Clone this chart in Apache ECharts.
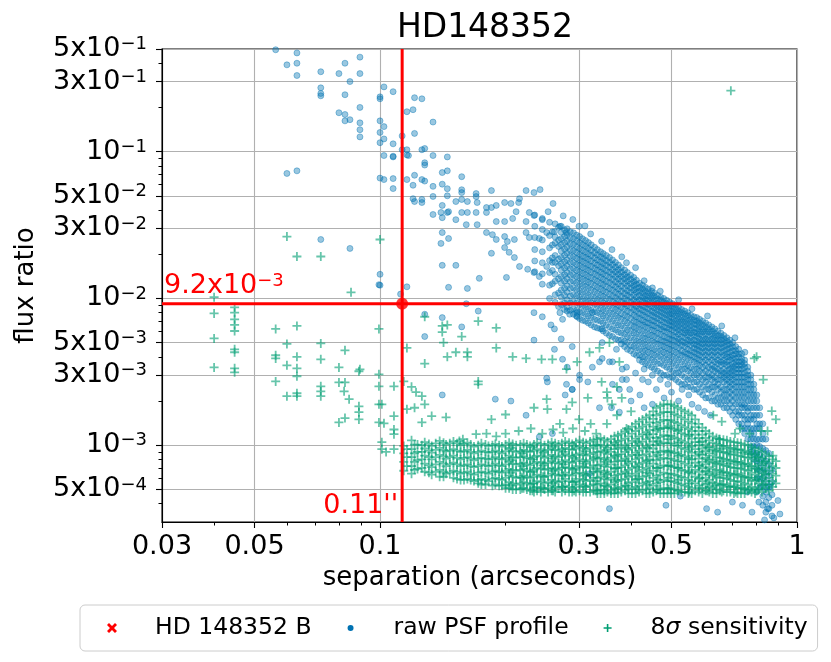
<!DOCTYPE html>
<html>
<head>
<meta charset="utf-8">
<title>HD148352</title>
<script src="https://cdn.jsdelivr.net/npm/echarts@6.0.0/dist/echarts.min.js"></script>
<style>
html, body { margin: 0; padding: 0; background: #fff; }
#chart { width: 831px; height: 662px; }
</style>
</head>
<body>
<div id="chart"></div>
<script>
var FONT = 'DejaVu Sans';

// axis ticks
var xMin = 0.03, xMax = 1;
var yMin = 3e-4, yMax = 0.5;
var xTickValues = [0.03, 0.05, 0.1, 0.3, 0.5, 1];
var xTickLabels = ['0.03', '0.05', '0.1', '0.3', '0.5', '1'];
var xMinorTicks = [0.04, 0.06, 0.07, 0.08, 0.09, 0.2, 0.4, 0.6, 0.7, 0.8, 0.9];
var yTickValues = [5e-1, 3e-1, 1e-1, 5e-2, 3e-2, 1e-2, 5e-3, 3e-3, 1e-3, 5e-4];
var yTickBase = ['5x10', '3x10', '10', '5x10', '3x10', '10', '5x10', '3x10', '10', '5x10'];
var yTickExp = ['−1', '−1', '−1', '−2', '−2', '−2', '−3', '−3', '−3', '−4'];
var yMinorTicks = [4e-1, 2e-1, 9e-2, 8e-2, 7e-2, 6e-2, 4e-2, 2e-2, 9e-3, 8e-3, 7e-3, 6e-3,
  4e-3, 2e-3, 9e-4, 8e-4, 7e-4, 6e-4, 4e-4];

// companion
var compName = 'HD 148352 B';
var companion = [[0.113, 0.0092]];
var compSepText = "0.11''";
var compFluxBase = '9.2x10', compFluxExp = '−3';

// raw PSF profile: loose points [sep, flux]
var psfName = 'raw PSF profile';
var psfSparse = [
  [0.0562,0.494],[0.0632,0.47],[0.0598,0.39],[0.0632,0.40],[0.0632,0.33],[0.0721,0.35],[0.0824,0.40],
  [0.0895,0.44],[0.0797,0.34],[0.0895,0.34],[0.0847,0.30],[0.0721,0.272],[0.0721,0.249],[0.0721,0.24],
  [0.0824,0.244],[0.0895,0.20],[0.1,0.236],[0.1,0.229],[0.1022,0.276],[0.1075,0.256],[0.0797,0.184],
  [0.0824,0.179],[0.0824,0.162],[0.0847,0.165],[0.0895,0.157],[0.0895,0.141],[0.0895,0.126],[0.1,0.162],
  [0.1022,0.148],[0.1,0.135],[0.1022,0.122],[0.1,0.115],[0.1075,0.113],[0.1075,0.092],[0.1075,0.093],
  [0.1022,0.094],[0.116,0.095],[0.113,0.103],[0.0598,0.071],[0.0632,0.074],[0.1,0.066],[0.1022,0.0645],
  [0.1075,0.0655],[0.1075,0.056],[0.116,0.0645],[0.0721,0.0252],[0.0847,0.0219],[0.1,0.0146],[0.1,0.0123],
  [0.0994,0.0124],[0.112,0.0107],
  [0.121,0.233],[0.126,0.229],[0.116,0.187],[0.12,0.193],[0.134,0.159],[0.121,0.133],[0.113,0.128],
  [0.116,0.103],[0.126,0.103],[0.128,0.105],[0.117,0.094],[0.134,0.094],[0.145,0.092],[0.128,0.084],
  [0.128,0.081],[0.145,0.074],[0.141,0.072],[0.121,0.069],[0.126,0.0645],[0.128,0.063],[0.157,0.0675],
  [0.12,0.059],[0.134,0.058],[0.141,0.060],[0.145,0.0559],[0.157,0.055],[0.157,0.0526],[0.17,0.0518],
  [0.185,0.0543],[0.224,0.0543],[0.234,0.0526],[0.242,0.0551],[0.12,0.0478],[0.121,0.0457],[0.126,0.0472],
  [0.126,0.045],[0.134,0.0495],[0.145,0.050],[0.141,0.043],[0.152,0.0457],[0.157,0.0472],[0.162,0.0457],
  [0.171,0.045],[0.17,0.0494],[0.18,0.0416],[0.185,0.0416],[0.19,0.043],[0.199,0.045],[0.206,0.0443],
  [0.215,0.045],[0.216,0.0478],[0.26,0.0443],[0.134,0.0373],[0.14,0.0385],[0.141,0.0355],[0.145,0.0385],
  [0.146,0.039],[0.152,0.0344],[0.157,0.0385],[0.161,0.0318],[0.162,0.0385],[0.17,0.0385],[0.171,0.0318],
  [0.18,0.0385],[0.19,0.0334],[0.199,0.0334],[0.208,0.035],[0.212,0.039],[0.228,0.0385],[0.234,0.0367],
  [0.224,0.0334],[0.245,0.0344],[0.253,0.039],[0.27,0.031],[0.28,0.0281],[0.18,0.0281],[0.186,0.0272],
  [0.19,0.0252],[0.199,0.0264],[0.202,0.0244],[0.21,0.0252],[0.224,0.0281],[0.228,0.026],[0.241,0.0256],
  [0.251,0.0281],[0.262,0.0285],[0.141,0.0281],[0.146,0.0256],[0.14,0.0237],[0.199,0.0222],[0.204,0.0206],
  [0.21,0.019],[0.185,0.0203],[0.141,0.0168],[0.152,0.0168],[0.173,0.0137],[0.201,0.0139],[0.216,0.0165],
  [0.226,0.0158],[0.234,0.015],[0.241,0.0141],[0.251,0.0165],[0.259,0.0176],[0.116,0.012],[0.146,0.0119],
  [0.162,0.0117],
  [0.128,0.0078],[0.141,0.0074],[0.157,0.0064],[0.172,0.0082],[0.161,0.0092],[0.128,0.0055],[0.141,0.0022],
  [0.189,0.00206],[0.206,0.002],[0.224,0.0016],[0.234,0.0080],[0.245,0.0075],[0.257,0.0066],[0.262,0.0062],
  [0.27,0.008],[0.274,0.0072],[0.285,0.0078],[0.296,0.008],[0.272,0.0053],[0.262,0.0045],[0.274,0.00385],
  [0.289,0.0047],[0.281,0.0034],[0.251,0.00286],[0.252,0.0027],[0.280,0.0026],[0.289,0.0024],[0.278,0.0022],
  [0.234,0.0052],[0.301,0.003],[0.315,0.0027],[0.336,0.0037],[0.355,0.0037],[0.369,0.0045],[0.341,0.005],
  [0.361,0.0026],[0.375,0.0024],[0.39,0.0028],[0.397,0.0024],[0.336,0.0018],[0.359,0.0018],[0.375,0.00168],
  [0.241,0.00114],[0.259,0.0012],[0.355,0.00037],[0.318,0.00064],[0.297,0.0075],[0.323,0.008],[0.341,0.0062],
  [0.323,0.0034],[0.341,0.0039],[0.361,0.0037],[0.381,0.0033],[0.381,0.0028],[0.426,0.0028],[0.301,0.0028],
  [0.289,0.0024],
  [0.39,0.0034],[0.41,0.0031],[0.43,0.0033],[0.45,0.003],[0.44,0.0027],[0.47,0.0028],[0.49,0.0026],
  [0.46,0.0024],[0.5,0.0023],[0.53,0.0024],[0.55,0.0022],[0.52,0.002],[0.48,0.0021],[0.45,0.0019],
  [0.43,0.0018],[0.56,0.0019],[0.58,0.0018],[0.6,0.0017],[0.62,0.0016],[0.42,0.0022],[0.4,0.002],
  [0.485,0.00039],[0.525,0.00045],[0.607,0.00037],[0.645,0.00035],[0.70,0.00041],[0.74,0.00039],
  [0.76,0.00048],[0.80,0.00048],[0.81,0.00041],[0.85,0.00037],[0.86,0.00052],[0.78,0.00035],
  [0.88,0.00032],[0.91,0.00034],[0.836,0.00031],[0.90,0.00042],
  [0.30,0.031],[0.32,0.0275],[0.34,0.0245],[0.36,0.0215],[0.38,0.0192],[0.41,0.0162],[0.45,0.0118],
  [0.47,0.0112],[0.52,0.0098],[0.56,0.0085],[0.61,0.0076],[0.66,0.0065],[0.71,0.0054],[0.75,0.0043],
  [0.29,0.0345],[0.31,0.0312],[0.275,0.0365],[0.39,0.0175],[0.43,0.0132]
];

// raw PSF profile: the dense band, one column per separation [sep, [flux...]]
var psfBand = [
  [0.235, [0.037,0.031,0.026,0.0215,0.018,0.0152]],
  [0.245, [0.035,0.0295,0.025,0.0208,0.0175,0.0147,0.0125]],
  [0.255, [0.0330,0.0268,0.0221,0.0181,0.0150,0.0123,0.0100]],
  [0.263, [0.0322,0.0262,0.0238,0.0196,0.0176,0.0146,0.0131,0.0106,0.0094]],
  [0.272, [0.0310,0.0282,0.0255,0.0232,0.0210,0.0190,0.0172,0.0156,0.0141,0.0127,0.0114,0.0102,0.0091]],
  [0.281, [0.0298,0.0270,0.0246,0.0224,0.0203,0.0183,0.0166,0.0150,0.0136,0.0122,0.0110,0.0098,0.0087,0.0082]],
  [0.291, [0.0280,0.0255,0.0233,0.0212,0.0193,0.0176,0.0160,0.0145,0.0131,0.0118,0.0106,0.0095,0.0085,0.0078]],
  [0.301, [0.0264,0.0240,0.0219,0.0200,0.0183,0.0167,0.0152,0.0138,0.0125,0.0113,0.0102,0.0091,0.0081,0.0073]],
  [0.311, [0.0248,0.0227,0.0207,0.0190,0.0174,0.0159,0.0145,0.0132,0.0120,0.0108,0.0097,0.0087,0.0078,0.0070]],
  [0.321, [0.0232,0.0213,0.0196,0.0180,0.0165,0.0151,0.0138,0.0126,0.0114,0.0103,0.0093,0.0083,0.0074,0.0066]],
  [0.332, [0.0215,0.0198,0.0183,0.0169,0.0156,0.0143,0.0131,0.0119,0.0108,0.0098,0.0089,0.0080,0.0071,0.0063]],
  [0.343, [0.0202,0.0187,0.0173,0.0160,0.0147,0.0135,0.0124,0.0113,0.0103,0.0093,0.0084,0.0076,0.0068,0.0060]],
  [0.355, [0.0190,0.0176,0.0163,0.0151,0.0139,0.0128,0.0117,0.0107,0.0098,0.0089,0.0080,0.0072,0.0064,0.0056]],
  [0.367, [0.0176,0.0163,0.0152,0.0141,0.0130,0.0120,0.0110,0.0101,0.0092,0.0084,0.0076,0.0068,0.0061,0.0053]],
  [0.379, [0.0162,0.0151,0.0141,0.0131,0.0121,0.0112,0.0103,0.0095,0.0087,0.0079,0.0072,0.0065,0.0058,0.0052,0.0049]],
  [0.392, [0.0150,0.0140,0.0131,0.0122,0.0113,0.0105,0.0097,0.0089,0.0082,0.0075,0.0068,0.0061,0.0055,0.0050,0.0045]],
  [0.406, [0.0139,0.0130,0.0122,0.0114,0.0106,0.0098,0.0091,0.0084,0.0077,0.0070,0.0064,0.0058,0.0052,0.0047,0.0042]],
  [0.419, [0.0127,0.0119,0.0112,0.0105,0.0098,0.0091,0.0085,0.0079,0.0073,0.0067,0.0061,0.0055,0.0050,0.0045,0.0041,0.0038]],
  [0.433, [0.0119,0.0112,0.0105,0.0099,0.0093,0.0087,0.0081,0.0075,0.0069,0.0064,0.0058,0.0053,0.0048,0.0044,0.0040,0.0036]],
  [0.448, [0.0112,0.0106,0.0100,0.0094,0.0088,0.0082,0.0077,0.0071,0.0066,0.0061,0.0056,0.0051,0.0046,0.0042,0.0038,0.0034]],
  [0.463, [0.0105,0.0099,0.0093,0.0088,0.0083,0.0078,0.0073,0.0068,0.0063,0.0058,0.0053,0.0049,0.0044,0.0040,0.0036,0.0032]],
  [0.479, [0.0100,0.0094,0.0089,0.0084,0.0079,0.0074,0.0069,0.0064,0.0060,0.0055,0.0051,0.0047,0.0043,0.0039,0.0035,0.0030]],
  [0.495, [0.0094,0.0089,0.0084,0.0079,0.0075,0.0070,0.0066,0.0062,0.0057,0.0053,0.0049,0.0045,0.0041,0.0037,0.0033,0.0029]],
  [0.512, [0.0090,0.0085,0.0080,0.0076,0.0071,0.0067,0.0063,0.0059,0.0055,0.0051,0.0047,0.0043,0.0039,0.0035,0.0031,0.0028]],
  [0.529, [0.0084,0.0080,0.0075,0.0071,0.0067,0.0063,0.0059,0.0055,0.0051,0.0048,0.0044,0.0041,0.0037,0.0033,0.0030,0.0026]],
  [0.547, [0.0080,0.0076,0.0071,0.0067,0.0063,0.0059,0.0056,0.0052,0.0049,0.0045,0.0042,0.0039,0.0035,0.0032,0.0028,0.0025]],
  [0.566, [0.0075,0.0071,0.0067,0.0063,0.0059,0.0056,0.0052,0.0049,0.0046,0.0043,0.0040,0.0037,0.0033,0.0030,0.0027,0.0024]],
  [0.584, [0.0072,0.0068,0.0064,0.0060,0.0057,0.0053,0.0050,0.0047,0.0044,0.0041,0.0038,0.0035,0.0032,0.0029,0.0026,0.0023]],
  [0.604, [0.0068,0.0064,0.0060,0.0057,0.0053,0.0050,0.0047,0.0044,0.0041,0.0038,0.0035,0.0032,0.0029,0.0027,0.0024,0.0021]],
  [0.625, [0.0064,0.0060,0.0057,0.0053,0.0050,0.0047,0.0044,0.0041,0.0038,0.0035,0.0033,0.0030,0.0028,0.0025,0.0023,0.0020]],
  [0.646, [0.0060,0.0056,0.0053,0.0050,0.0047,0.0044,0.0041,0.0038,0.0036,0.0033,0.0031,0.0028,0.0026,0.0024,0.0021,0.0019]],
  [0.668, [0.0056,0.0053,0.0050,0.0047,0.0044,0.0041,0.0038,0.0036,0.0033,0.0031,0.0029,0.0027,0.0024,0.0022,0.0020,0.0018]],
  [0.690, [0.0052,0.0049,0.0046,0.0043,0.0040,0.0038,0.0035,0.0033,0.0031,0.0029,0.0027,0.0025,0.0023,0.0021,0.0019,0.0017]],
  [0.713, [0.0047,0.0044,0.0042,0.0039,0.0037,0.0035,0.0033,0.0031,0.0029,0.0027,0.0025,0.0023,0.0021,0.0019,0.0017,0.0015]],
  [0.737, [0.0042,0.0039,0.0037,0.0035,0.0033,0.0031,0.0029,0.0027,0.0025,0.0023,0.0021,0.0019,0.0018,0.0016,0.0014,0.0013]],
  [0.762, [0.0034,0.0032,0.0030,0.0028,0.0026,0.0024,0.0022,0.0020,0.0018,0.0017,0.0015,0.0014,0.0013,0.0011]],
  [0.788, [0.0026,0.0024,0.0022,0.0020,0.0018,0.0016,0.0015,0.0013,0.0012,0.0011,0.00098,0.00088,0.0008]],
  [0.814, [0.0018,0.0016,0.0014,0.0013,0.0011,0.00098,0.00086,0.00076,0.00067,0.00059,0.00052]],
  [0.842, [0.0011,0.00092,0.00078,0.00066,0.00056,0.00048,0.00041,0.00035]],
  [0.871, [0.00068,0.00056,0.00046,0.00039,0.00033]]
];

// raw PSF profile: band points lying between the columns above
var psfBandMid = [
  [0.259, [0.0284,0.0231,0.0189,0.0155,0.0126]],
  [0.268, [0.0305,0.0250,0.0226,0.0185,0.0167,0.0136,0.0109,0.0088]],
  [0.277, [0.0293,0.0265,0.0240,0.0217,0.0197,0.0178,0.0161,0.0145,0.0131,0.0117,0.0105,0.0093,0.0084]],
  [0.286, [0.0284,0.0258,0.0235,0.0213,0.0194,0.0176,0.0159,0.0144,0.0130,0.0117,0.0104,0.0093,0.0083]],
  [0.296, [0.0270,0.0246,0.0224,0.0205,0.0187,0.0170,0.0155,0.0141,0.0128,0.0115,0.0104,0.0093,0.0083,0.0076]],
  [0.306, [0.0255,0.0232,0.0212,0.0194,0.0178,0.0162,0.0148,0.0135,0.0122,0.0110,0.0099,0.0089,0.0080,0.0071]],
  [0.316, [0.0240,0.0220,0.0201,0.0185,0.0169,0.0155,0.0141,0.0129,0.0117,0.0105,0.0095,0.0085,0.0076,0.0068]],
  [0.327, [0.0223,0.0205,0.0189,0.0174,0.0160,0.0147,0.0134,0.0122,0.0111,0.0100,0.0091,0.0081,0.0072,0.0064]],
  [0.338, [0.0208,0.0192,0.0178,0.0164,0.0151,0.0139,0.0127,0.0116,0.0105,0.0095,0.0086,0.0078,0.0070,0.0062]],
  [0.349, [0.0196,0.0181,0.0168,0.0155,0.0143,0.0131,0.0120,0.0110,0.0100,0.0091,0.0082,0.0074,0.0066,0.0058]],
  [0.361, [0.0183,0.0170,0.0157,0.0146,0.0135,0.0124,0.0114,0.0104,0.0095,0.0086,0.0078,0.0070,0.0062,0.0055]],
  [0.373, [0.0169,0.0157,0.0146,0.0136,0.0126,0.0116,0.0107,0.0098,0.0090,0.0082,0.0074,0.0066,0.0059,0.0052]],
  [0.386, [0.0156,0.0145,0.0136,0.0127,0.0117,0.0108,0.0100,0.0092,0.0085,0.0077,0.0070,0.0063,0.0057,0.0051,0.0047]],
  [0.399, [0.0144,0.0135,0.0126,0.0118,0.0110,0.0102,0.0094,0.0087,0.0080,0.0073,0.0066,0.0060,0.0054,0.0048,0.0044]],
  [0.412, [0.0133,0.0125,0.0117,0.0110,0.0102,0.0095,0.0088,0.0082,0.0075,0.0069,0.0063,0.0057,0.0051,0.0046,0.0041]],
  [0.426, [0.0123,0.0116,0.0109,0.0102,0.0096,0.0089,0.0083,0.0077,0.0071,0.0066,0.0060,0.0054,0.0049,0.0044,0.0040,0.0037]],
  [0.440, [0.0116,0.0109,0.0103,0.0097,0.0091,0.0085,0.0079,0.0073,0.0068,0.0063,0.0057,0.0052,0.0047,0.0043,0.0039,0.0035]],
  [0.455, [0.0109,0.0103,0.0097,0.0091,0.0086,0.0080,0.0075,0.0070,0.0065,0.0060,0.0055,0.0050,0.0045,0.0041,0.0037,0.0033]],
  [0.471, [0.0102,0.0097,0.0091,0.0086,0.0081,0.0076,0.0071,0.0066,0.0062,0.0057,0.0052,0.0048,0.0044,0.0040,0.0036,0.0031]],
  [0.487, [0.0097,0.0092,0.0087,0.0082,0.0077,0.0072,0.0068,0.0063,0.0059,0.0054,0.0050,0.0046,0.0042,0.0038,0.0034,0.0030]],
  [0.503, [0.0092,0.0087,0.0082,0.0078,0.0073,0.0069,0.0065,0.0061,0.0056,0.0052,0.0048,0.0044,0.0040,0.0036,0.0032,0.0029]],
  [0.520, [0.0087,0.0082,0.0078,0.0073,0.0069,0.0065,0.0061,0.0057,0.0053,0.0050,0.0046,0.0042,0.0038,0.0034,0.0031,0.0027]],
  [0.538, [0.0082,0.0078,0.0073,0.0069,0.0065,0.0061,0.0058,0.0054,0.0050,0.0047,0.0043,0.0040,0.0036,0.0033,0.0029,0.0026]],
  [0.556, [0.0077,0.0073,0.0069,0.0065,0.0061,0.0058,0.0054,0.0051,0.0048,0.0044,0.0041,0.0038,0.0034,0.0031,0.0028,0.0025]],
  [0.575, [0.0074,0.0070,0.0066,0.0062,0.0058,0.0055,0.0051,0.0048,0.0045,0.0042,0.0039,0.0036,0.0033,0.0030,0.0027,0.0024]],
  [0.594, [0.0070,0.0066,0.0062,0.0059,0.0055,0.0052,0.0049,0.0046,0.0043,0.0040,0.0037,0.0034,0.0031,0.0028,0.0025,0.0022]],
  [0.614, [0.0066,0.0062,0.0059,0.0055,0.0052,0.0049,0.0046,0.0043,0.0040,0.0037,0.0034,0.0031,0.0029,0.0026,0.0024,0.0021]],
  [0.635, [0.0062,0.0058,0.0055,0.0052,0.0049,0.0046,0.0043,0.0040,0.0037,0.0034,0.0032,0.0029,0.0027,0.0025,0.0022,0.0020]],
  [0.657, [0.0058,0.0055,0.0052,0.0049,0.0046,0.0043,0.0040,0.0037,0.0035,0.0032,0.0030,0.0028,0.0025,0.0023,0.0021,0.0019]],
  [0.679, [0.0054,0.0051,0.0048,0.0045,0.0042,0.0040,0.0037,0.0035,0.0032,0.0030,0.0028,0.0026,0.0024,0.0022,0.0020,0.0018]],
  [0.701, [0.0050,0.0047,0.0044,0.0041,0.0039,0.0036,0.0034,0.0032,0.0030,0.0028,0.0026,0.0024,0.0022,0.0020,0.0018,0.0016]],
  [0.725, [0.0045,0.0042,0.0040,0.0037,0.0035,0.0033,0.0031,0.0029,0.0027,0.0025,0.0023,0.0021,0.0019,0.0017,0.0016,0.0014]],
  [0.749, [0.0038,0.0036,0.0034,0.0031,0.0029,0.0027,0.0025,0.0023,0.0021,0.0019,0.0018,0.0016,0.0015,0.0013,0.0012]],
  [0.775, [0.0030,0.0028,0.0026,0.0024,0.0022,0.0020,0.0018,0.0016,0.0015,0.0013,0.0012,0.0011,0.00098,0.0009]],
  [0.801, [0.0022,0.0020,0.0018,0.0016,0.0014,0.0013,0.0011,0.0010,0.00088,0.00078,0.00069,0.0006]],
  [0.828, [0.0014,0.0012,0.0011,0.00095,0.00082,0.0007,0.0006,0.00052,0.00045,0.00039]],
  [0.856, [0.00088,0.00074,0.00062,0.00052,0.00044,0.00037]]
];

// 8 sigma sensitivity: loose points
var sensName = '8σ sensitivity';
var sensSparse = [
  [0.04,0.0102],[0.04,0.0079],[0.04,0.00534],[0.04,0.00339],
  [0.0448,0.0087],[0.0448,0.0080],[0.0448,0.0072],[0.0448,0.0066],[0.0448,0.006],[0.0448,0.0045],
  [0.0448,0.0043],[0.0448,0.00334],[0.0448,0.00314],
  [0.0562,0.0062],[0.0632,0.0065],[0.0598,0.0049],[0.0562,0.0041],[0.0562,0.0039],[0.0598,0.0035],
  [0.0632,0.0040],[0.0632,0.00334],[0.0632,0.00295],[0.0562,0.00272],[0.0598,0.00216],[0.0632,0.00216],
  [0.0632,0.00226],[0.0721,0.00494],[0.0721,0.00385],[0.0721,0.00252],[0.0721,0.00233],[0.0721,0.00216],
  [0.0824,0.00443],[0.0797,0.00339],[0.089,0.00319],[0.0895,0.00329],[0.0797,0.00268],[0.0824,0.00268],
  [0.082,0.00233],[0.0843,0.00206],[0.089,0.00184],[0.089,0.00168],[0.089,0.0015],[0.0797,0.00143],
  [0.0824,0.00153],[0.0994,0.0062],[0.0852,0.0110],[0.0994,0.00304],[0.0994,0.00252],[0.0994,0.0019],
  [0.101,0.0019],[0.0994,0.00143],[0.1022,0.00141],[0.108,0.00252],[0.108,0.00158],[0.108,0.00128],
  [0.108,0.00119],[0.101,0.00105],[0.101,0.00094],[0.1034,0.0009],[0.108,0.00094],
  [0.0598,0.0264],[0.0632,0.0193],[0.0721,0.0193],[0.1,0.0252],[0.694,0.26],
  [0.128,0.0075],[0.141,0.0065],[0.145,0.0066],[0.141,0.0059],[0.142,0.0050],[0.157,0.0055],[0.172,0.007],
  [0.190,0.0063],[0.116,0.0046],[0.128,0.0036],[0.145,0.0040],[0.152,0.0043],[0.162,0.0043],[0.162,0.0040],
  [0.190,0.0046],[0.208,0.0040],[0.224,0.0039],[0.244,0.00385],[0.259,0.00385],[0.280,0.0033],[0.297,0.0037],
  [0.318,0.0043],[0.172,0.00272],[0.172,0.0026],[0.114,0.00272],[0.119,0.0025],[0.122,0.0023],[0.126,0.00216],
  [0.128,0.0019],[0.116,0.00176],[0.121,0.0018],[0.133,0.00158],[0.144,0.00155],[0.126,0.00143],[0.185,0.0015],
  [0.20,0.00162],[0.234,0.0018],[0.251,0.00206],[0.252,0.00176],[0.280,0.00176],[0.289,0.00196],[0.315,0.0021],
  [0.351,0.0021],[0.170,0.00119],[0.158,0.0011],[0.155,0.00107],
  [0.336,0.0046],[0.355,0.005],[0.375,0.0037],[0.80,0.004],[0.83,0.0028],[0.79,0.0039],[0.87,0.00171],
  [0.89,0.0015],[0.85,0.00125],[0.875,0.00085],
  [0.63,0.0016],[0.66,0.00145],[0.73,0.0013],[0.77,0.0012],[0.82,0.00125],[0.65,0.0011],[0.71,0.0012],
  [0.34,0.0027],[0.35,0.0023],[0.36,0.0019],[0.37,0.0016],[0.38,0.0021],[0.39,0.0013],[0.40,0.0017],
  [0.35,0.0014],[0.33,0.0012],[0.37,0.0025],
  [0.20,0.0012],[0.215,0.00125],[0.23,0.0013],[0.245,0.0012],[0.26,0.00128],[0.275,0.00122],[0.29,0.0013],
  [0.19,0.00115],[0.18,0.0012],[0.31,0.00125],[0.32,0.0014],[0.3,0.0015],[0.27,0.0014]
];

// 8 sigma sensitivity: the dense band, one column per separation
var sensBand = [
  [0.114, [0.00099,0.00088,0.00077,0.00067]],
  [0.119, [0.00108,0.00094,0.00083,0.00072,0.00064]],
  [0.123, [0.00101,0.0009,0.00079,0.00069]],
  [0.128, [0.00105,0.00095,0.00085,0.00075,0.00066]],
  [0.133, [0.00099,0.00089,0.0008,0.00071,0.00063]],
  [0.139, [0.00107,0.00096,0.00086,0.00077,0.00068,0.00061]],
  [0.144, [0.00101,0.00091,0.00081,0.00072,0.00064]],
  [0.150, [0.00106,0.00094,0.00085,0.00076,0.00067,0.0006]],
  [0.156, [0.001,0.0009,0.0008,0.00072,0.00064,0.00058]],
  [0.162, [0.00104,0.00093,0.00083,0.00074,0.00066,0.00059]],
  [0.168, [0.00098,0.00088,0.00079,0.00071,0.00063,0.00057]],
  [0.175, [0.00103,0.00092,0.00082,0.00074,0.00066,0.00059,0.00054]],
  [0.182, [0.00099,0.00089,0.0008,0.00072,0.00064,0.00057]],
  [0.189, [0.00102,0.00092,0.00083,0.00075,0.00067,0.0006,0.00054]],
  [0.196, [0.00098,0.00088,0.0008,0.00072,0.00065,0.00058,0.00053]],
  [0.204, [0.00104,0.00094,0.00085,0.00077,0.00069,0.00062,0.00056,0.00051]],
  [0.212, [0.001,0.0009,0.00082,0.00074,0.00067,0.0006,0.00054,0.0005]],
  [0.221, [0.00103,0.00093,0.00084,0.00076,0.00069,0.00062,0.00056,0.00051]],
  [0.229, [0.00099,0.0009,0.00081,0.00073,0.00066,0.0006,0.00054,0.00049]],
  [0.238, [0.00104,0.00094,0.00085,0.00077,0.0007,0.00063,0.00057,0.00052,0.00049]],
  [0.248, [0.001,0.00091,0.00082,0.00075,0.00068,0.00061,0.00055,0.0005]],
  [0.258, [0.00105,0.00095,0.00086,0.00078,0.0007,0.00064,0.00058,0.00053,0.00049]],
  [0.268, [0.00101,0.00092,0.00083,0.00075,0.00068,0.00062,0.00056,0.00051]],
  [0.278, [0.00106,0.00096,0.00087,0.00079,0.00071,0.00065,0.00059,0.00053,0.00049]],
  [0.289, [0.00102,0.00093,0.00084,0.00076,0.00069,0.00062,0.00056,0.00051,0.00048]],
  [0.301, [0.00108,0.00098,0.00088,0.0008,0.00072,0.00065,0.00059,0.00054,0.00049]],
  [0.312, [0.00103,0.00094,0.00085,0.00077,0.0007,0.00063,0.00057,0.00052,0.00048]],
  [0.325, [0.00109,0.00099,0.00089,0.00081,0.00073,0.00066,0.0006,0.00054,0.00049]],
  [0.338, [0.00112,0.00101,0.00091,0.00082,0.00074,0.00067,0.00061,0.00055,0.0005,0.00047]],
  [0.351, [0.00106,0.00096,0.00087,0.00079,0.00071,0.00064,0.00058,0.00052,0.00048]],
  [0.365, [0.00115,0.00104,0.00094,0.00085,0.00077,0.00069,0.00062,0.00056,0.00051,0.00047]],
  [0.379, [0.0012,0.00108,0.00097,0.00087,0.00079,0.00071,0.00064,0.00058,0.00052,0.00048]],
  [0.394, [0.00128,0.00115,0.00103,0.00093,0.00084,0.00075,0.00068,0.00061,0.00055,0.0005,0.00047]],
  [0.410, [0.0014,0.00125,0.00111,0.00099,0.00089,0.0008,0.00072,0.00064,0.00058,0.00052,0.00047]],
  [0.426, [0.0015,0.00134,0.00119,0.00106,0.00095,0.00085,0.00076,0.00068,0.00061,0.00055,0.00049]],
  [0.443, [0.0016,0.00143,0.00127,0.00113,0.00101,0.0009,0.0008,0.00072,0.00064,0.00057,0.00051,0.00047]],
  [0.460, [0.0018,0.0016,0.00142,0.00126,0.00112,0.001,0.00089,0.00079,0.0007,0.00062,0.00055,0.00049]],
  [0.479, [0.0019,0.00168,0.00149,0.00132,0.00117,0.00104,0.00092,0.00082,0.00073,0.00065,0.00058,0.00051,0.00047]],
  [0.498, [0.0019,0.00168,0.00148,0.00131,0.00116,0.00103,0.00091,0.00081,0.00072,0.00064,0.00057,0.00051,0.00047]],
  [0.517, [0.0018,0.00159,0.00141,0.00125,0.00111,0.00099,0.00088,0.00078,0.0007,0.00062,0.00055,0.00049]],
  [0.538, [0.0017,0.0015,0.00133,0.00118,0.00105,0.00094,0.00084,0.00075,0.00067,0.0006,0.00053,0.00048]],
  [0.559, [0.0016,0.00141,0.00125,0.00111,0.00099,0.00089,0.0008,0.00071,0.00064,0.00057,0.00051,0.00047]],
  [0.581, [0.0014,0.00125,0.00112,0.001,0.0009,0.00081,0.00073,0.00066,0.00059,0.00053,0.00048]],
  [0.604, [0.00125,0.00112,0.00101,0.00091,0.00082,0.00074,0.00067,0.0006,0.00054,0.00049]],
  [0.628, [0.00115,0.00104,0.00094,0.00085,0.00077,0.00069,0.00062,0.00056,0.00051,0.00047]],
  [0.653, [0.0011,0.001,0.0009,0.00082,0.00074,0.00067,0.0006,0.00054,0.00049]],
  [0.679, [0.00108,0.00098,0.00088,0.0008,0.00072,0.00065,0.00059,0.00053,0.00048]],
  [0.706, [0.00105,0.00095,0.00086,0.00078,0.0007,0.00063,0.00057,0.00052,0.00047]],
  [0.734, [0.00103,0.00093,0.00084,0.00076,0.00069,0.00062,0.00056,0.00051,0.00047]],
  [0.763, [0.001,0.0009,0.00082,0.00074,0.00067,0.0006,0.00054,0.00049]],
  [0.793, [0.00095,0.00086,0.00078,0.0007,0.00063,0.00057,0.00051,0.00047]],
  [0.824, [0.0009,0.00081,0.00073,0.00066,0.00059,0.00053,0.00048]],
  [0.857, [0.00084,0.00075,0.00067,0.0006,0.00054,0.00049]],
  [0.890, [0.00078,0.0007,0.00062,0.00055]]
];

// 8 sigma sensitivity: band points lying between the columns above
var sensBandMid = [
  [0.116, [0.00094,0.00083,0.00072]],
  [0.121, [0.00101,0.00088,0.00077,0.00068]],
  [0.126, [0.001,0.0009,0.0008,0.0007]],
  [0.131, [0.00102,0.00092,0.00083,0.00073,0.00065]],
  [0.136, [0.00103,0.00093,0.00083,0.00074,0.00066]],
  [0.142, [0.00104,0.00093,0.00084,0.00075,0.00066,0.00061]],
  [0.147, [0.00103,0.00092,0.00083,0.00074,0.00065]],
  [0.153, [0.00103,0.00092,0.00082,0.00074,0.00066,0.00059]],
  [0.159, [0.00102,0.00091,0.00082,0.00073,0.00065,0.00058]],
  [0.165, [0.00101,0.0009,0.00081,0.00072,0.00064,0.00058]],
  [0.172, [0.001,0.0009,0.00081,0.00072,0.00065,0.00058,0.00055]],
  [0.179, [0.00101,0.0009,0.00081,0.00073,0.00065,0.00058,0.00054]],
  [0.186, [0.001,0.0009,0.00081,0.00073,0.00066,0.00059,0.00053]],
  [0.193, [0.001,0.0009,0.00081,0.00073,0.00066,0.00059,0.00053]],
  [0.200, [0.00101,0.00091,0.00082,0.00074,0.00067,0.0006,0.00054,0.00051]],
  [0.208, [0.00102,0.00092,0.00083,0.00075,0.00068,0.00061,0.00055,0.0005]],
  [0.217, [0.00101,0.00091,0.00083,0.00075,0.00068,0.00061,0.00055,0.0005]],
  [0.225, [0.00101,0.00091,0.00082,0.00074,0.00067,0.00061,0.00055,0.0005]],
  [0.234, [0.00101,0.00092,0.00083,0.00075,0.00068,0.00061,0.00055,0.00051,0.00048]],
  [0.243, [0.00102,0.00092,0.00084,0.00076,0.00069,0.00062,0.00056,0.00051,0.00048]],
  [0.253, [0.00102,0.00093,0.00084,0.00076,0.00069,0.00062,0.00056,0.00051,0.00048]],
  [0.263, [0.00103,0.00093,0.00084,0.00076,0.00069,0.00063,0.00057,0.00052,0.00048]],
  [0.273, [0.00103,0.00094,0.00085,0.00077,0.0007,0.00063,0.00057,0.00052,0.00048]],
  [0.284, [0.00104,0.00094,0.00085,0.00077,0.0007,0.00063,0.00057,0.00052,0.00048]],
  [0.295, [0.00105,0.00095,0.00086,0.00078,0.0007,0.00064,0.00057,0.00052,0.00048]],
  [0.307, [0.00105,0.00096,0.00086,0.00078,0.00071,0.00064,0.00058,0.00053,0.00048]],
  [0.319, [0.00106,0.00096,0.00087,0.00079,0.00071,0.00064,0.00058,0.00053,0.00048]],
  [0.332, [0.0011,0.001,0.0009,0.00081,0.00073,0.00066,0.0006,0.00054,0.00049,0.00047]],
  [0.345, [0.00109,0.00098,0.00089,0.0008,0.00072,0.00065,0.00059,0.00053,0.00049,0.00047]],
  [0.358, [0.0011,0.001,0.0009,0.00082,0.00074,0.00066,0.0006,0.00054,0.00049,0.00047]],
  [0.372, [0.00117,0.00106,0.00095,0.00086,0.00078,0.0007,0.00063,0.00057,0.00051,0.00047]],
  [0.387, [0.00124,0.00111,0.001,0.0009,0.00081,0.00073,0.00066,0.00059,0.00053,0.00049]],
  [0.402, [0.00134,0.0012,0.00107,0.00096,0.00086,0.00077,0.0007,0.00062,0.00056,0.00051,0.00047]],
  [0.418, [0.00145,0.0013,0.00115,0.00102,0.00092,0.00082,0.00074,0.00066,0.00059,0.00053,0.00048]],
  [0.435, [0.00155,0.00138,0.00123,0.0011,0.00098,0.00087,0.00078,0.0007,0.00062,0.00056,0.0005,0.00047]],
  [0.452, [0.0017,0.00151,0.00134,0.00119,0.00106,0.00095,0.00084,0.00075,0.00067,0.0006,0.00053,0.00048]],
  [0.470, [0.00185,0.00164,0.00145,0.00129,0.00114,0.00102,0.0009,0.0008,0.00071,0.00063,0.00056,0.0005,0.00047]],
  [0.489, [0.0019,0.00168,0.00148,0.00131,0.00116,0.00103,0.00091,0.00081,0.00072,0.00064,0.00057,0.00051,0.00047]],
  [0.508, [0.00185,0.00163,0.00144,0.00128,0.00113,0.001,0.00089,0.00079,0.00071,0.00063,0.00056,0.0005,0.00047]],
  [0.528, [0.00175,0.00155,0.00137,0.00121,0.00108,0.00096,0.00086,0.00077,0.00068,0.00061,0.00054,0.00048]],
  [0.549, [0.00165,0.00145,0.00129,0.00115,0.00102,0.00091,0.00082,0.00073,0.00065,0.00058,0.00052,0.00047]],
  [0.570, [0.0015,0.00133,0.00118,0.00105,0.00094,0.00085,0.00076,0.00068,0.00061,0.00055,0.00049]],
  [0.593, [0.00132,0.00118,0.00106,0.00095,0.00086,0.00077,0.0007,0.00063,0.00057,0.00051,0.00047]],
  [0.616, [0.0012,0.00108,0.00097,0.00088,0.00079,0.00071,0.00064,0.00058,0.00052,0.00048]],
  [0.641, [0.00112,0.00102,0.00092,0.00083,0.00075,0.00068,0.00061,0.00055,0.0005,0.00047]],
  [0.666, [0.00109,0.00099,0.00089,0.00081,0.00073,0.00066,0.0006,0.00054,0.00049]],
  [0.692, [0.00106,0.00096,0.00087,0.00079,0.00071,0.00064,0.00058,0.00052,0.00048]],
  [0.720, [0.00104,0.00094,0.00085,0.00077,0.0007,0.00063,0.00057,0.00051,0.00047]],
  [0.749, [0.00101,0.00092,0.00083,0.00075,0.00068,0.00061,0.00055,0.0005,0.00047]],
  [0.778, [0.00097,0.00088,0.0008,0.00072,0.00065,0.00058,0.00052,0.00048]],
  [0.809, [0.00092,0.00083,0.00075,0.00068,0.00061,0.00055,0.0005]],
  [0.841, [0.00087,0.00078,0.0007,0.00063,0.00057,0.00051]],
  [0.874, [0.0008,0.00072,0.00064,0.00057,0.00052]]
];

// 8 sigma sensitivity: the darkest core of the band
var sensBandCore = [
  [0.206, [0.00096,0.00079,0.00065,0.00053]],
  [0.219, [0.00088,0.00072,0.0006,0.00051]],
  [0.232, [0.00097,0.0008,0.00066,0.00055,0.00049]],
  [0.246, [0.00089,0.00073,0.00061,0.00051]],
  [0.260, [0.00098,0.00081,0.00067,0.00055,0.00049]],
  [0.275, [0.0009,0.00074,0.00062,0.00052]],
  [0.292, [0.00099,0.00082,0.00068,0.00056,0.00049]],
  [0.310, [0.00091,0.00075,0.00062,0.00052]],
  [0.329, [0.001,0.00083,0.00069,0.00057,0.00049]],
  [0.348, [0.00093,0.00077,0.00063,0.00053]],
  [0.368, [0.00101,0.00084,0.0007,0.00058,0.0005]],
  [0.390, [0.00095,0.00078,0.00064,0.00053]],
  [0.414, [0.00105,0.00086,0.00071,0.00059,0.0005]],
  [0.438, [0.00118,0.00096,0.00079,0.00065,0.00054]],
  [0.464, [0.0013,0.00106,0.00086,0.0007,0.00058,0.0005]],
  [0.492, [0.00135,0.0011,0.00089,0.00073,0.0006,0.0005]],
  [0.520, [0.00128,0.00104,0.00085,0.0007,0.00058,0.00049]],
  [0.551, [0.00118,0.00097,0.0008,0.00066,0.00055,0.00048]],
  [0.584, [0.00105,0.00087,0.00072,0.0006,0.00051]],
  [0.610, [0.00097,0.0008,0.00066,0.00055,0.00049]],
  [0.635, [0.00092,0.00076,0.00063,0.00053]],
  [0.660, [0.00095,0.00078,0.00065,0.00054,0.00048]],
  [0.686, [0.0009,0.00075,0.00062,0.00052]],
  [0.713, [0.00093,0.00077,0.00064,0.00053,0.00048]],
  [0.741, [0.00089,0.00074,0.00061,0.00051]],
  [0.770, [0.00087,0.00072,0.0006,0.0005]],
  [0.800, [0.00083,0.00069,0.00058,0.00049]],
  [0.832, [0.00077,0.00064,0.00054]]
];

function flattenColumns(cols) {
  var out = [];
  cols.forEach(function (c) {
    c[1].forEach(function (y) { out.push([c[0], y]); });
  });
  return out;
}

function tickIndex(values, v) {
  for (var i = 0; i < values.length; i++) {
    if (Math.abs(Math.log10(values[i] / v)) < 1e-6) return i;
  }
  return -1;
}

var ICON_X = 'path://M2,0L5,3L8,0L10,2L7,5L10,8L8,10L5,7L2,10L0,8L3,5L0,2Z';
var ICON_DOT = 'path://M0,0M10,10M5,2A3,3,0,1,1,5,8A3,3,0,1,1,5,2Z';
var ICON_PLUS = 'path://M0,0M10,10M4.2,1H5.8V4.2H9V5.8H5.8V9H4.2V5.8H1V4.2H4.2Z';
var PLUS = 'path://M4,0H6V4H10V6H6V10H4V6H0V4H4Z';

var supRich = {
  b: { fontSize: 27, fontFamily: FONT, color: '#000', verticalAlign: 'bottom' },
  s: { fontSize: 18, fontFamily: FONT, color: '#000', verticalAlign: 'bottom', padding: [0, 0, 9, 0] }
};

var redLine = {
  type: 'line', silent: true, z: 5, symbol: 'none',
  lineStyle: { color: '#ff0000', width: 3 }
};

var option = {
  animation: false,
  backgroundColor: '#fff',
  title: {
    text: 'HD148352',
    left: 480,
    top: 7,
    textAlign: 'center',
    textStyle: { fontFamily: FONT, fontSize: 33, fontWeight: 'normal', color: '#000' }
  },
  grid: {
    left: 162, right: 34, top: 49, bottom: 140,
    show: true, borderColor: '#000', borderWidth: 1.1, backgroundColor: 'transparent'
  },
  legend: {
    left: 80, top: 605,
    padding: [11, 10, 11, 27],
    itemWidth: 10, itemHeight: 10, itemGap: 34,
    borderColor: '#cccccc', borderWidth: 1, borderRadius: 5,
    itemStyle: { opacity: 1, borderWidth: 0 },
    textStyle: {
      fontFamily: FONT, fontSize: 23.5, color: '#000', padding: [0, 0, 0, 33],
      rich: { i: { fontFamily: FONT, fontSize: 23.5, fontStyle: 'italic', color: '#000' } }
    },
    formatter: function (name) {
      return name === sensName ? '8{i|σ} sensitivity' : name;
    },
    data: [
      { name: compName, icon: ICON_X },
      { name: psfName, icon: ICON_DOT },
      { name: sensName, icon: ICON_PLUS }
    ]
  },
  xAxis: [{
    type: 'log', logBase: 10, min: xMin, max: xMax, position: 'bottom',
    name: 'separation (arcseconds)', nameLocation: 'middle', nameGap: 41,
    nameTextStyle: { fontFamily: FONT, fontSize: 26, color: '#000' },
    axisLine: { show: true, lineStyle: { color: '#000', width: 1.1 } },
    axisTick: { show: true, length: 6, customValues: xTickValues, lineStyle: { color: '#000', width: 1.1 } },
    axisLabel: {
      show: true, customValues: xTickValues, margin: 11,
      fontFamily: FONT, fontSize: 27, color: '#000',
      formatter: function (v) { var i = tickIndex(xTickValues, v); return i < 0 ? '' : xTickLabels[i]; }
    },
    splitLine: { show: true, lineStyle: { color: '#b0b0b0', width: 1.1 } }
  }, {
    type: 'log', logBase: 10, min: xMin, max: xMax, position: 'bottom',
    axisLine: { show: false },
    axisTick: { show: true, length: 3.5, customValues: xMinorTicks, lineStyle: { color: '#000', width: 1 } },
    axisLabel: { show: false },
    splitLine: { show: false }
  }],
  yAxis: [{
    type: 'log', logBase: 10, min: yMin, max: yMax, position: 'left',
    name: 'flux ratio', nameLocation: 'middle', nameGap: 123,
    nameTextStyle: { fontFamily: FONT, fontSize: 26, color: '#000' },
    axisLine: { show: true, lineStyle: { color: '#000', width: 1.1 } },
    axisTick: { show: true, length: 6, customValues: yTickValues, lineStyle: { color: '#000', width: 1.1 } },
    axisLabel: {
      show: true, customValues: yTickValues, margin: 15,
      rich: supRich,
      formatter: function (v) {
        var i = tickIndex(yTickValues, v);
        return i < 0 ? '' : '{b|' + yTickBase[i] + '}{s|' + yTickExp[i] + '}';
      }
    },
    splitLine: { show: true, lineStyle: { color: '#b0b0b0', width: 1.1 } }
  }, {
    type: 'log', logBase: 10, min: yMin, max: yMax, position: 'left',
    axisLine: { show: false },
    axisTick: { show: true, length: 3.5, customValues: yMinorTicks, lineStyle: { color: '#000', width: 1 } },
    axisLabel: { show: false },
    splitLine: { show: false }
  }],
  series: [
    {
      name: compName, type: 'scatter', data: companion, z: 6,
      symbol: 'circle', symbolSize: 12, silent: true,
      itemStyle: { color: '#ff0000' }
    },
    {
      name: psfName, type: 'scatter', z: 2, silent: true,
      data: psfSparse.concat(flattenColumns(psfBand), flattenColumns(psfBandMid)),
      symbol: 'circle', symbolSize: 6,
      itemStyle: { color: '#0072B2', opacity: 0.4, borderColor: '#0072B2', borderWidth: 1 }
    },
    {
      name: sensName, type: 'scatter', z: 3, silent: true,
      data: sensSparse.concat(flattenColumns(sensBand), flattenColumns(sensBandMid), flattenColumns(sensBandCore)),
      symbol: PLUS, symbolSize: 9,
      itemStyle: { color: '#009E73', opacity: 0.6 }
    },
    Object.assign({ name: 'sepLine', data: [[companion[0][0], yMin], [companion[0][0], yMax]] }, redLine),
    Object.assign({ name: 'fluxLine', data: [[xMin, companion[0][1]], [xMax, companion[0][1]]] }, redLine)
  ]
};

var chart = echarts.init(document.getElementById('chart'));
chart.setOption(option);

// red annotations next to the companion lines
var pFlux = chart.convertToPixel({ gridIndex: 0 }, [xMin, companion[0][1]]);
var pSep = chart.convertToPixel({ gridIndex: 0 }, [companion[0][0], yMin]);
chart.setOption({
  graphic: [
    {
      type: 'text', x: pFlux[0] + 2, y: pFlux[1] - 4, z: 20, silent: true,
      style: {
        text: '{b|' + compFluxBase + '}{s|' + compFluxExp + '}',
        align: 'left', verticalAlign: 'bottom',
        rich: {
          b: { fontSize: 27, fontFamily: FONT, fill: '#ff0000', verticalAlign: 'bottom' },
          s: { fontSize: 18, fontFamily: FONT, fill: '#ff0000', verticalAlign: 'bottom', padding: [0, 0, 9, 0] }
        }
      }
    },
    {
      type: 'text', x: pSep[0] - 4, y: pSep[1] - 3, z: 20, silent: true,
      style: {
        text: compSepText, fontSize: 27, fontFamily: FONT, fill: '#ff0000',
        align: 'right', verticalAlign: 'bottom'
      }
    }
  ]
});
</script>
</body>
</html>
